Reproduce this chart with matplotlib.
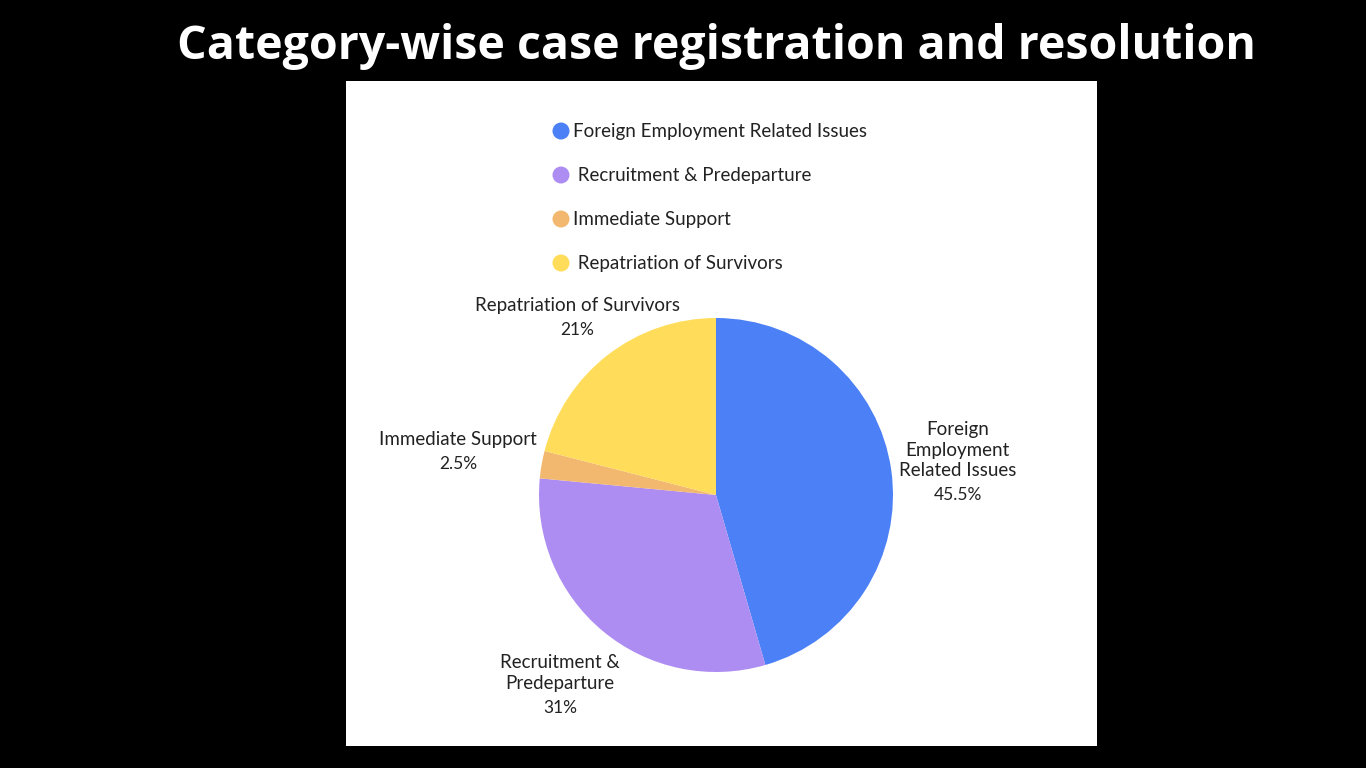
import numpy as np
import matplotlib
matplotlib.use("Agg")
import matplotlib.pyplot as plt
from matplotlib.patches import Rectangle, Circle

# datos del grafico
categorias = ['Foreign Employment Related Issues', ' Recruitment & Predeparture',
              'Immediate Support', ' Repatriation of Survivors']
etiquetas = ['Foreign\nEmployment\nRelated Issues', 'Recruitment &\nPredeparture',
             'Immediate Support', 'Repatriation of Survivors']
porcentajes = [45.5, 31, 2.5, 21]
textoPct = ['45.5%', '31%', '2.5%', '21%']
colores = ['#4B80F6', '#AE8DF3', '#F2B870', '#FFDD5A']
distEtiqueta = [1.38, 1.38, 1.48, 1.28]

plt.rcParams['font.family'] = ['Lato', 'DejaVu Sans']

fig = plt.figure(figsize=(13.66, 7.68), dpi=100, facecolor='black')

# fondo en pixeles
bg = fig.add_axes([0, 0, 1, 1], zorder=0)
bg.set_xlim(0, 1366)
bg.set_ylim(768, 0)
bg.axis('off')
bg.add_patch(Rectangle((346, 81), 751, 665, facecolor='white', edgecolor='none'))

bg.text(716, 46, 'Category-wise case registration and resolution',
        color='white', fontsize=33.5, fontweight='bold', ha='center', va='center',
        family=['Open Sans', 'DejaVu Sans'])

# leyenda manual
for i, cat in enumerate(categorias):
    y = 131 + 44*i
    bg.add_patch(Circle((561, y), 8.5, facecolor=colores[i], edgecolor='none'))
    bg.text(573, y + 1, cat, fontsize=13.5, color='#222222', va='center', ha='left')

# pie
R = 177
lim = 1.5
half = lim*R
ax = fig.add_axes([(716-half)/1366, (273-half)/768, 2*half/1366, 2*half/768], zorder=1)
wedges, _ = ax.pie(porcentajes, colors=colores, startangle=90, counterclock=False,
                   radius=1, wedgeprops={'linewidth': 0})
ax.set_xlim(-lim, lim)
ax.set_ylim(-lim, lim)
ax.axis('off')

px = 0.72  # puntos por pixel
for w, et, pct, d in zip(wedges, etiquetas, textoPct, distEtiqueta):
    ang = np.deg2rad((w.theta1 + w.theta2)/2)
    x, y = d*np.cos(ang), d*np.sin(ang)
    n = et.count('\n') + 1
    ax.annotate(et, (x, y), xytext=(0, 10.25*px), textcoords='offset points',
                ha='center', va='center', fontsize=13.5, color='#222222',
                linespacing=1.25, annotation_clip=False)
    ax.annotate(pct, (x, y), xytext=(0, -((n-1)*10.25 + 14.25)*px), textcoords='offset points',
                ha='center', va='center', fontsize=12.5, color='#222222',
                annotation_clip=False)

plt.savefig('out.png', dpi=100, facecolor='black')
